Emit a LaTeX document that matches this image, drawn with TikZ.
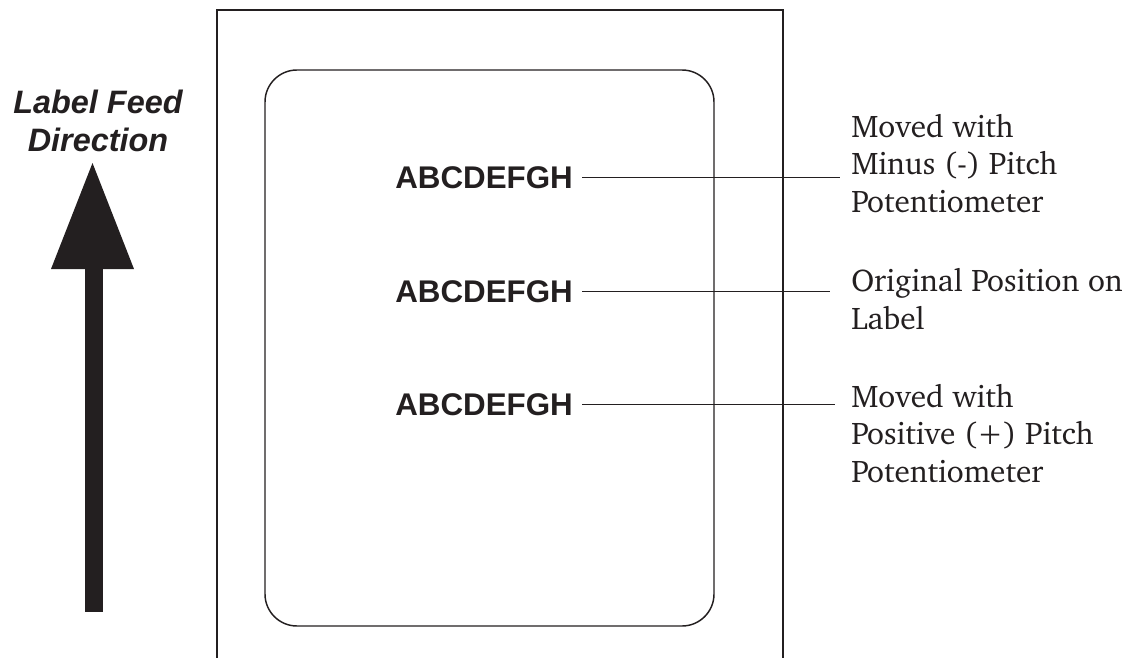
\documentclass[tikz,border=0pt]{standalone}
\usepackage[T1]{fontenc}
\usepackage{fontspec}
\newfontfamily\arialfont{Liberation Sans}
\newcommand\chartertext{\fontencoding{T1}\fontfamily{bch}\selectfont}
\definecolor{ink}{HTML}{231F20}
\begin{document}
\begin{tikzpicture}[x=0.75pt,y=-0.75pt,
  frame/.style={draw=ink,line width=1pt},
  sample/.style={font=\arialfont\bfseries\fontsize{23.5}{28}\selectfont,text=ink,inner sep=0pt,anchor=base west},
  note/.style={font=\chartertext\fontsize{23.5}{28.1}\selectfont,text=ink,inner sep=0pt,anchor=base west,align=left},
  feed/.style={font=\arialfont\bfseries\itshape\fontsize{24.3}{28.5}\selectfont,text=ink,inner sep=0pt,align=center},
  leader/.style={draw=ink,line width=0.9pt,shorten <=7pt}]
\useasboundingbox (0,0) rectangle (1142,657);
% outer label
\draw[frame] (217,660) -- (217,10) -- (783,10) -- (783,660);
% inner rounded area
\draw[frame,line width=1.1pt,rounded corners=24pt] (265,70) rectangle (714,626);
% feed arrow
\fill[ink] (85,268) rectangle (103,612);
\fill[ink] (51,269) -- (134,269) -- (92.5,163) -- cycle;
\node[feed,anchor=base] (feedtxt) at (98,151) {Label Feed\\Direction};
% samples
\node[sample] (a1) at (395,188) {ABCDEFGH};
\node[sample] (a2) at (395,302) {ABCDEFGH};
\node[sample] (a3) at (395,415) {ABCDEFGH};
% notes (base = baseline of last line)
\node[note] (n1) at (851,212) {Moved with\\Minus (-) Pitch\\Potentiometer};
\node[note] (n2) at (851,329) {Original Position on\\Label};
\node[note] (n3) at (851,482) {Moved with\\Positive (+) Pitch\\Potentiometer};
% leaders
\coordinate (e1) at (840,178);
\coordinate (e2) at (830,292);
\coordinate (e3) at (835,402);
\draw[leader] (a1.east) -- (a1.east -| e1);
\draw[leader] (a2.east) -- (a2.east -| e2);
\draw[leader] (a3.east) -- (a3.east -| e3);
\end{tikzpicture}
\end{document}
